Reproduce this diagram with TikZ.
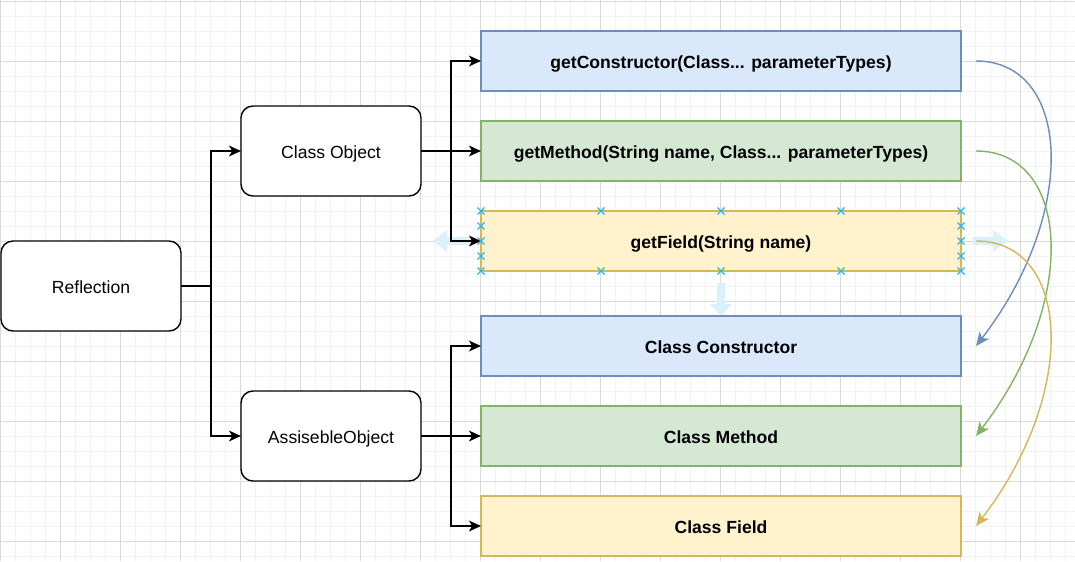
\documentclass[tikz,border=0pt]{standalone}
\usepackage{fontspec}
\setmainfont{Liberation Sans}
\usetikzlibrary{positioning,arrows.meta}

\definecolor{boxblue}{HTML}{DAE8FC}
\definecolor{lineblue}{HTML}{6C8EBF}
\definecolor{boxgreen}{HTML}{D5E8D4}
\definecolor{linegreen}{HTML}{82B366}
\definecolor{boxyellow}{HTML}{FFF2CC}
\definecolor{lineyellow}{HTML}{D6B656}
\definecolor{handle}{HTML}{29B6F2}
\definecolor{hint}{HTML}{DAF1FC}
\definecolor{minorgrid}{HTML}{F2F2F2}
\definecolor{majorgrid}{HTML}{DADADA}

\begin{document}
\begin{tikzpicture}[x=0.025cm, y=-0.025cm,
  every node/.style={font=\fontsize{12.5}{15}\selectfont, text height=11pt, text depth=0.6pt},
  rbox/.style={draw, rounded corners=0.3cm, fill=white, line width=1pt, minimum width=4.5cm, minimum height=2.25cm, inner sep=0pt, outer sep=0pt},
  wbox/.style={draw, line width=0.9pt, minimum width=12cm, minimum height=1.5cm, inner sep=0pt, outer sep=0pt, font=\fontsize{12.5}{15}\selectfont\bfseries},
  conn/.style={-{Stealth[length=0.3cm,width=0.27cm,inset=0.08cm]}, line width=1pt},
  curvearrow/.style={-{Stealth[length=0.34cm,width=0.3cm,inset=0.09cm]}, line width=1pt}]
  % background grid
  \useasboundingbox (0,0) rectangle (1075,561);
  \fill[white] (0,0) rectangle (1075,561);
  \foreach \x in {0,15,...,1075} \draw[minorgrid, line width=0.7pt] (\x,0) -- (\x,561);
  \foreach \y in {1,16,...,561} \draw[minorgrid, line width=0.7pt] (0,\y) -- (1075,\y);
  \foreach \x in {0,60,...,1075} \draw[majorgrid, line width=0.7pt] (\x,0) -- (\x,561);
  \foreach \y in {1,61,...,561} \draw[majorgrid, line width=0.7pt] (0,\y) -- (1075,\y);

  % selection hints round getField
  \fill[hint] (470,237) -- (447,237) -- (447,230) -- (433,241) -- (447,252) -- (447,245) -- (470,245) -- cycle;
  \fill[hint] (973,237) -- (993,237) -- (993,230) -- (1008,241) -- (993,252) -- (993,245) -- (973,245) -- cycle;
  \fill[hint] (717,283) -- (717,304) -- (710,304) -- (721,316) -- (732,304) -- (725,304) -- (725,283) -- cycle;

  \node[rbox] (reflection) at (91,286) {Reflection};
  \node[rbox] (classobj) at (331,151) {Class Object};
  \node[rbox] (accobj) at (331,436) {AssisebleObject};

  \node[wbox, fill=boxblue, draw=lineblue] (getcons) at (721,61) {getConstructor(Class... parameterTypes)};
  \node[wbox, fill=boxgreen, draw=linegreen] (getmeth) at (721,151) {getMethod(String name, Class... parameterTypes)};
  \node[wbox, fill=boxyellow, draw=lineyellow] (getfield) at (721,241) {getField(String name)};
  \node[wbox, fill=boxblue, draw=lineblue] (clscons) at (721,346) {Class Constructor};
  \node[wbox, fill=boxgreen, draw=linegreen] (clsmeth) at (721,436) {Class Method};
  \node[wbox, fill=boxyellow, draw=lineyellow] (clsfield) at (721,526) {Class Field};

  \draw[conn] (reflection.east) -- ++(30,0) |- (classobj.west);
  \draw[conn] (reflection.east) -- ++(30,0) |- (accobj.west);
  \draw[conn] (classobj.east) -- (getmeth.west);
  \draw[conn] (classobj.east) -- ++(30,0) |- (getcons.west);
  \draw[conn] (classobj.east) -- ++(30,0) |- (getfield.west);
  \draw[conn] (accobj.east) -- (clsmeth.west);
  \draw[conn] (accobj.east) -- ++(30,0) |- (clscons.west);
  \draw[conn] (accobj.east) -- ++(30,0) |- (clsfield.west);

  \draw[curvearrow, lineblue] ([xshift=0.375cm]getcons.east) .. controls +(94,0) and +(104,-136) .. ([xshift=0.375cm]clscons.east);
  \draw[curvearrow, linegreen] ([xshift=0.375cm]getmeth.east) .. controls +(94,0) and +(104,-136) .. ([xshift=0.375cm]clsmeth.east);
  \draw[curvearrow, lineyellow] ([xshift=0.375cm]getfield.east) .. controls +(94,0) and +(104,-136) .. ([xshift=0.375cm]clsfield.east);

  % handles
  \foreach \x in {481,601,721,841,961}
    \foreach \y in {211,271}
      \draw[handle, line width=0.8pt] (\x-3.5,\y-3.5) -- (\x+3.5,\y+3.5) (\x-3.5,\y+3.5) -- (\x+3.5,\y-3.5);
  \foreach \x in {481,961}
    \foreach \y in {226,241,256}
      \draw[handle, line width=0.8pt] (\x-3.5,\y-3.5) -- (\x+3.5,\y+3.5) (\x-3.5,\y+3.5) -- (\x+3.5,\y-3.5);
\end{tikzpicture}
\end{document}
